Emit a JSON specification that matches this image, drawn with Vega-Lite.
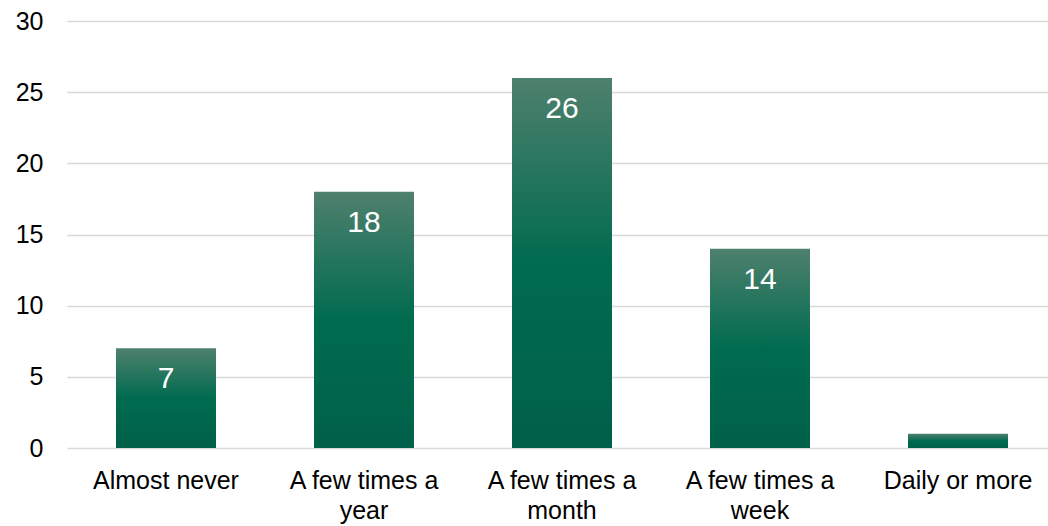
{
  "$schema": "https://vega.github.io/schema/vega-lite/v6.json",
  "width": 990,
  "height": 427,
  "autosize": {"type": "none"},
  "padding": {"left": 67, "top": 21, "right": 0, "bottom": 78},
  "background": "white",
  "config": {
    "view": {"stroke": null},
    "font": "Liberation Sans"
  },
  "data": {
    "values": [
      {"frequency": "Almost never", "count": 7},
      {"frequency": "A few times a year", "count": 18},
      {"frequency": "A few times a month", "count": 26},
      {"frequency": "A few times a week", "count": 14},
      {"frequency": "Daily or more", "count": 1}
    ]
  },
  "encoding": {
    "x": {
      "field": "frequency",
      "type": "nominal",
      "sort": null,
      "scale": {"paddingInner": 0.495, "paddingOuter": 0.2475},
      "axis": {
        "title": null,
        "labelAngle": 0,
        "labelFontSize": 25,
        "labelColor": "#000000",
        "labelPadding": 20,
        "labelLineHeight": 30,
        "labelBaseline": "top",
        "ticks": false,
        "domain": false,
        "labelExpr": "length(datum.value) > 14 ? [slice(datum.value, 0, 13), slice(datum.value, 14)] : datum.value"
      }
    },
    "y": {
      "field": "count",
      "type": "quantitative",
      "scale": {"domain": [0, 30]},
      "axis": {
        "title": null,
        "values": [0, 5, 10, 15, 20, 25, 30],
        "labelFontSize": 25,
        "labelColor": "#000000",
        "labelPadding": 24,
        "ticks": false,
        "domain": false,
        "gridColor": "#d9d9d9",
        "gridWidth": 1.5
      }
    }
  },
  "layer": [
    {
      "mark": {
        "type": "bar",
        "color": {
          "gradient": "linear",
          "x1": 0, "y1": 0, "x2": 0, "y2": 1,
          "stops": [
            {"offset": 0, "color": "#4e806d"},
            {"offset": 0.5, "color": "#006b4f"},
            {"offset": 1, "color": "#006049"}
          ]
        }
      }
    },
    {
      "transform": [{"filter": "datum.count > 2"}],
      "mark": {
        "type": "text",
        "color": "#ffffff",
        "fontSize": 30,
        "baseline": "top",
        "dy": 16
      },
      "encoding": {"text": {"field": "count", "type": "quantitative"}}
    }
  ]
}
